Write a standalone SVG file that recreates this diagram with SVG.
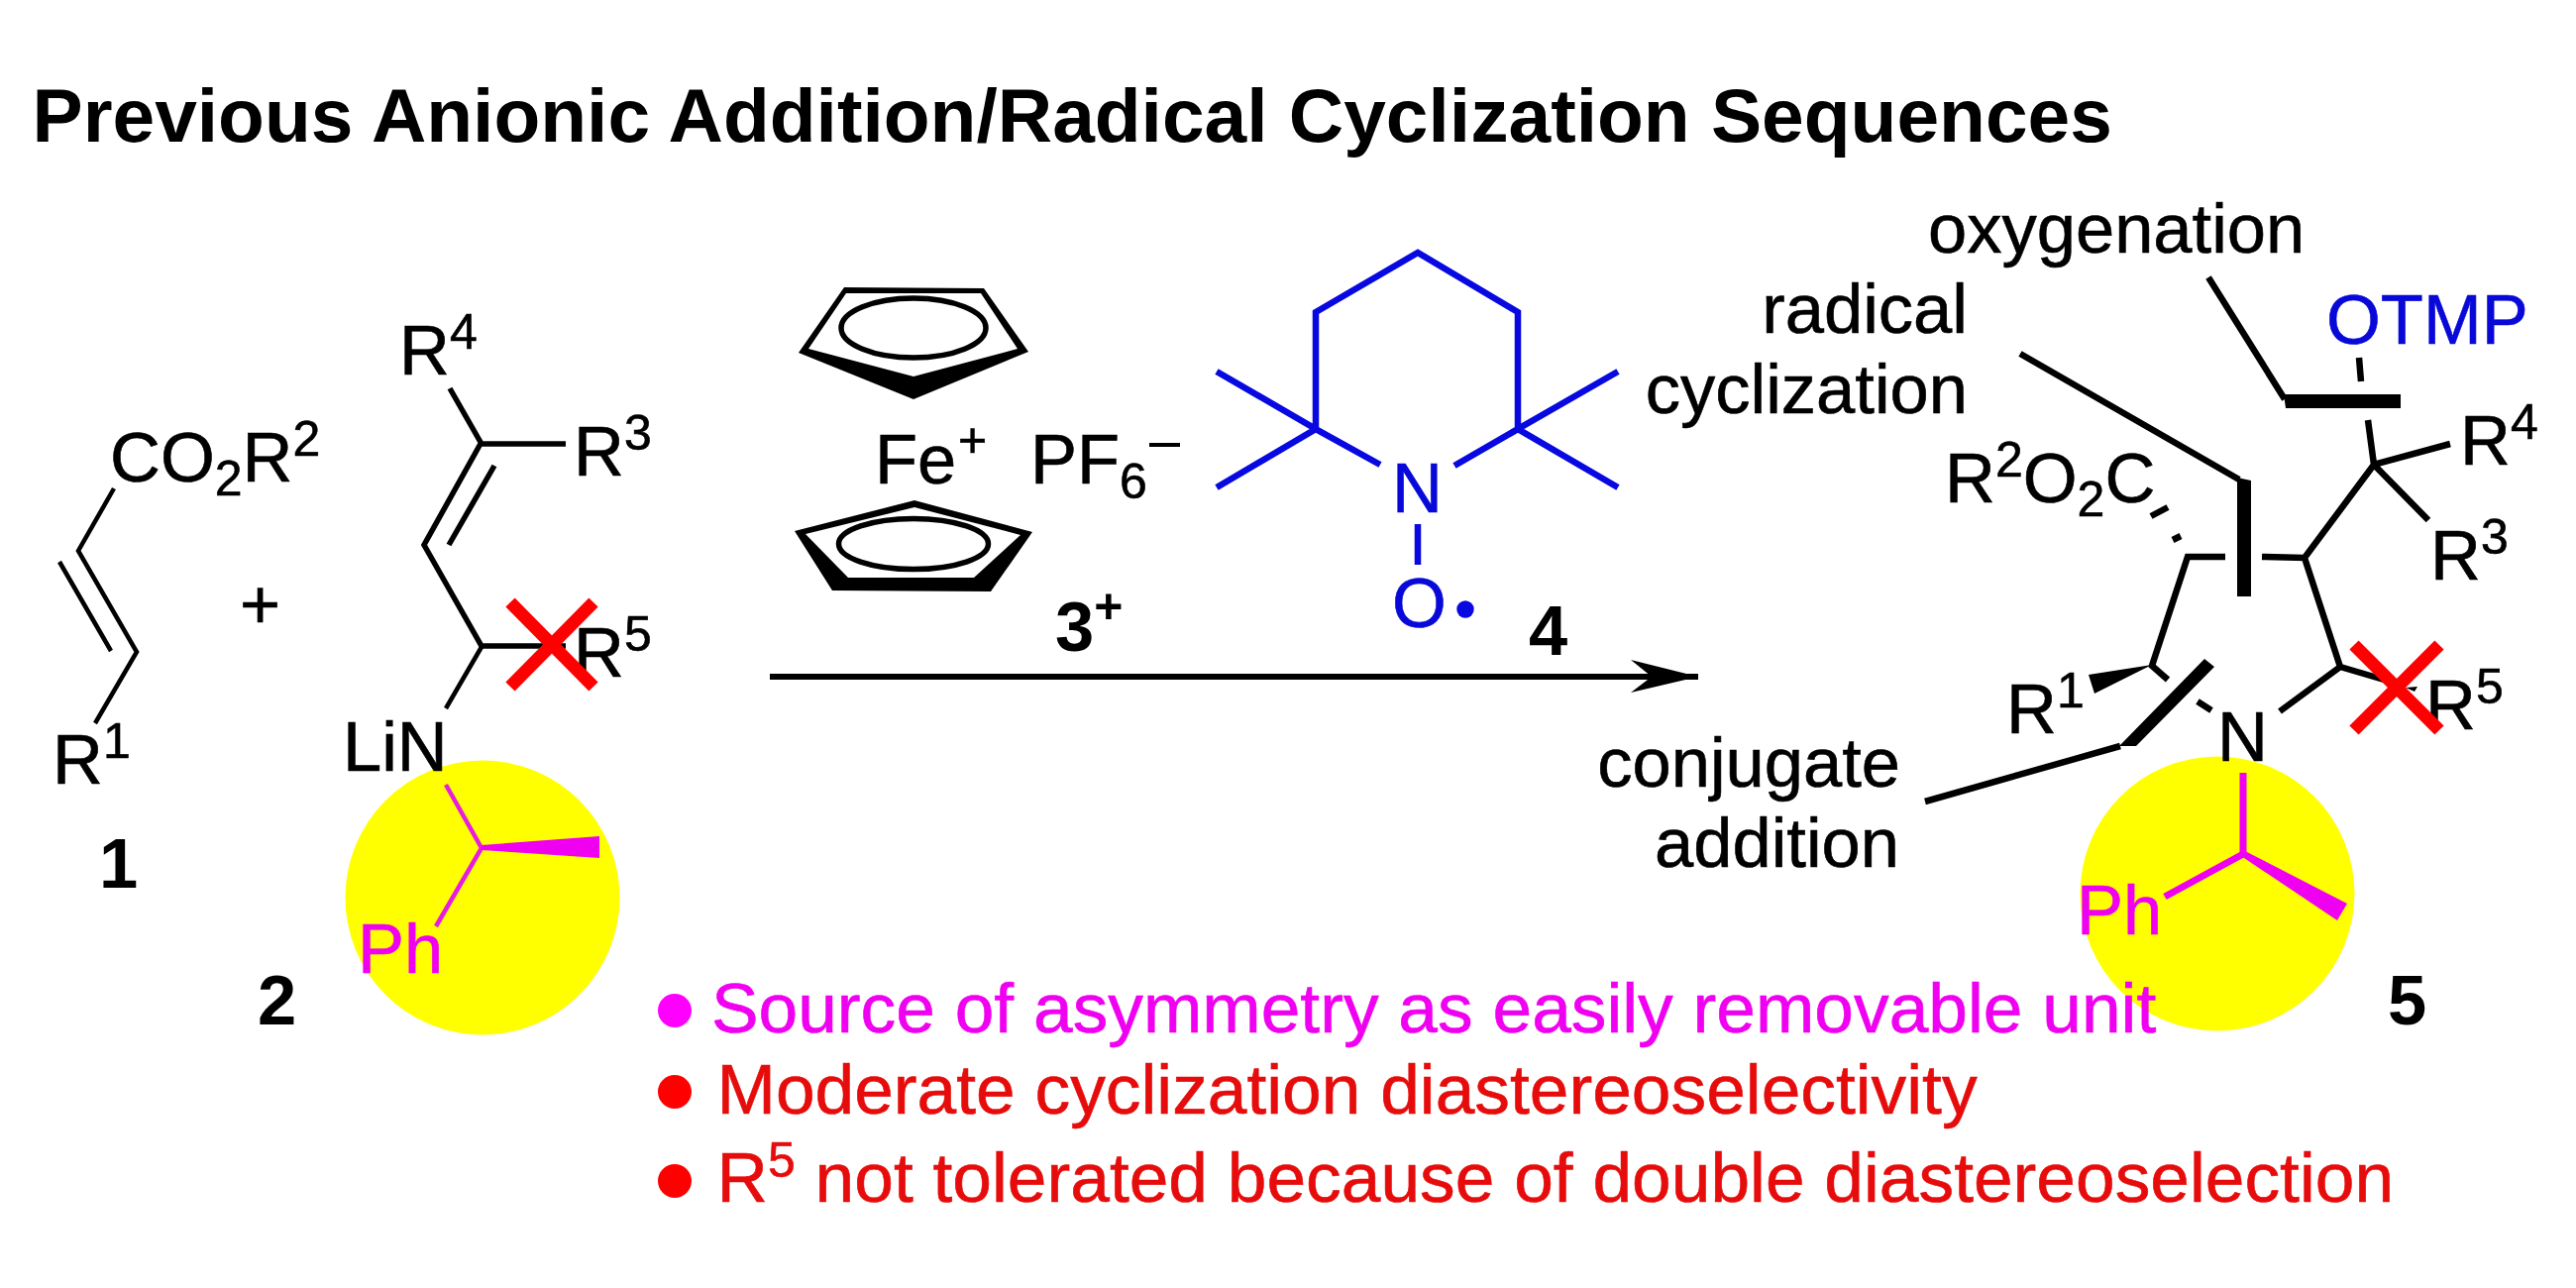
<svg xmlns="http://www.w3.org/2000/svg" width="2600" height="1300" viewBox="0 0 2600 1300">
<style>
text{font-family:"Liberation Sans",Arial,sans-serif;font-size:70.5px;fill:#000;stroke:#000;stroke-width:.6}
.b{font-weight:bold;stroke-width:0}
.m{fill:#f000f0;stroke:#f000f0}
.r{fill:#e60c0c;stroke:#e60c0c}
.u{fill:#0808d8;stroke:#0808d8}
.e{text-anchor:end}
.s{font-size:50px}
.n{font-size:71.3px}
.l{stroke:#000;stroke-width:6.5;fill:none;stroke-linecap:butt;stroke-linejoin:miter}
.l1{stroke-width:4.5}
.l2{stroke-width:5.5}
.bl{stroke:#0808e0;stroke-width:6.5;fill:none;stroke-linejoin:miter}
.ml{stroke:#e81ce0;stroke-width:4.5;fill:none}
.ml2{stroke:#f000f0;stroke-width:7;fill:none}
.x{stroke:#f00;stroke-width:13;fill:none}
.y{fill:#ff0}
</style>
<defs>
<marker id="ah" markerUnits="userSpaceOnUse" markerWidth="70" markerHeight="34" refX="68" refY="17" orient="auto"><path d="M0 0L68 17L0 33L21 17Z" fill="#000"/></marker>
</defs>
<g id="title"><text class="b" x="32.5" y="143" style="font-size:76.7px">Previous Anionic Addition/Radical Cyclization Sequences</text></g>

<g id="compound-1">
<path class="l l1" d="M115 493L79 556L138 658L96 730M60 567L112 657"/>
<text x="111" y="486">CO<tspan class="s" dy="14">2</tspan><tspan dy="-14">R</tspan><tspan class="s" dy="-26">2</tspan></text>
<text x="53" y="791">R<tspan class="s" dy="-26">1</tspan></text>
<text class="b" x="100" y="896">1</text>
</g>
<text id="plus" x="242" y="634">+</text>

<g id="compound-2">
<circle class="y" cx="487" cy="906" r="138.5"/>
<path class="l l2" d="M454 392L486 448M486 448H571M486 446L428 550L486 652H571M499 470L453 550"/>
<path class="l l1" d="M486 653L450 715"/>
<text x="403" y="378">R<tspan class="s" dy="-26">4</tspan></text>
<text x="579" y="480">R<tspan class="s" dy="-26">3</tspan></text>
<text x="579" y="683">R<tspan class="s" dy="-26">5</tspan></text>
<text x="346" y="778">LiN</text>
<path class="ml" d="M450 792L486 856L440 935"/>
<path d="M486 853L605 844V866L486 858Z" fill="#f000f0"/>
<text class="m" x="361" y="982">Ph</text>
<path class="x" d="M515 608L599 693M599 608L515 693"/>
<text class="b" x="260" y="1034">2</text>
</g>

<g id="compound-3">
<path fill-rule="evenodd" d="M852 290L993 291L1038 355L922 403L806 356ZM854 296L990 296L1027 352L922 380L816 352Z"/>
<ellipse class="l l2" cx="922" cy="331" rx="73" ry="30"/>
<path fill-rule="evenodd" d="M923 505L1042 537L1000 597L840 596L802 536ZM923 512L813 539L856 583L983 583L1030 540Z"/>
<ellipse class="l l2" cx="922" cy="549" rx="75.5" ry="25.5"/>
<text x="883" y="488">Fe</text>
<text class="s" x="967" y="461">+</text>
<text x="1040" y="488">PF<tspan class="s" dy="15">6</tspan></text>
<path d="M1160 449H1191" stroke="#000" stroke-width="4"/>
<text class="b" x="1065" y="657">3<tspan class="s" dy="-28">+</tspan></text>
</g>

<g id="compound-4">
<path class="bl" d="M1393 469L1328 433V315L1431 255L1532 315V433L1468 470M1228 375L1328 433L1228 492M1633 375L1532 433L1633 492M1431 529V570"/>
<text class="u" x="1405" y="517">N</text>
<text class="u" x="1405" y="633">O</text>
<circle cx="1479" cy="615" r="8.7" fill="#0808e0"/>
<text class="b" x="1543" y="661">4</text>
</g>

<g id="connectors">
<path d="M777 683H1714" stroke="#000" stroke-width="6" fill="none" marker-end="url(#ah)"/>
</g>

<g id="compound-5">
<circle class="y" cx="2238" cy="902" r="138.5"/>
<path class="l" d="M2381 361L2383 385M2390 424L2396 469L2473 448M2396 469L2451 525M2396 469L2326 563L2283 562M2326 563L2362 673L2301 718M2362 673L2413 688M2246 562H2208L2172 672L2188 686M2218 708L2232 717M2171 521L2188 512M2193 545L2201 541"/>
<path class="l" d="M2229 280L2306 403M2039 357L2260 484M2140 753L1943 809"/>
<path d="M2305 398H2423V412H2307ZM2258 482L2272 485V602H2258ZM2225 665L2235 673L2156 753L2139 753ZM2172 671L2108 681L2114 700ZM2428 694L2440 693L2437 698Z"/>
<text x="1946" y="255">oxygenation</text>
<text class="e" x="1986" y="336">radical</text>
<text class="e" x="1986" y="417">cyclization</text>
<text class="e" x="1918" y="794">conjugate</text>
<text class="e" x="1917" y="875">addition</text>
<text class="u" x="2348" y="347">OTMP</text>
<text x="2483" y="469">R<tspan class="s" dy="-26">4</tspan></text>
<text x="2453" y="585">R<tspan class="s" dy="-26">3</tspan></text>
<text x="1963" y="507">R<tspan class="s" dy="-26">2</tspan><tspan dy="26">O</tspan><tspan class="s" dy="14">2</tspan><tspan dy="-14">C</tspan></text>
<text x="2025" y="740">R<tspan class="s" dy="-26">1</tspan></text>
<text x="2448" y="736">R<tspan class="s" dy="-26">5</tspan></text>
<text x="2238" y="768">N</text>
<path class="ml2" d="M2264 780V862L2185 905"/>
<path d="M2264 858L2369 912L2359 929L2262 864Z" fill="#f000f0"/>
<text class="m" x="2096" y="943">Ph</text>
<path class="x" d="M2376 651L2462 737M2462 651L2376 737"/>
<text class="b" x="2410" y="1034">5</text>
</g>

<g id="notes">
<circle cx="681" cy="1020" r="17" fill="#f0f"/>
<text class="m n" x="718" y="1042">Source of asymmetry as easily removable unit</text>
<circle cx="681" cy="1102" r="17" fill="#f00"/>
<text class="r n" x="723.5" y="1124">Moderate cyclization diastereoselectivity</text>
<circle cx="681" cy="1192" r="17" fill="#f00"/>
<text class="r n" x="723.5" y="1213">R<tspan class="s" dy="-25">5</tspan><tspan dy="25"> not tolerated because of double diastereoselection</tspan></text>
</g>
</svg>
